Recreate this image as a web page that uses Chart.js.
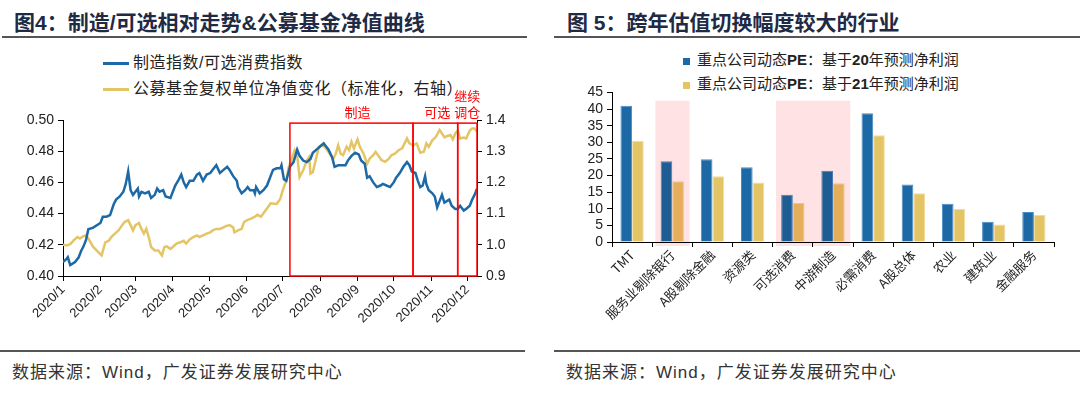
<!DOCTYPE html>
<html>
<head>
<meta charset="utf-8">
<script src="https://cdn.jsdelivr.net/npm/chart.js@4.4.1/dist/chart.umd.min.js"></script>
<style>
  body { margin: 0; width: 1080px; height: 393px; background: #fff; position: relative; overflow: hidden;
         font-family: "Liberation Sans", "Noto Sans CJK SC", sans-serif; }
  .title { position: absolute; top: 6px; font-size: 21px; font-weight: bold; color: #1F2A44; white-space: nowrap; }
  .rule { position: absolute; height: 2px; background: #555; }
  .src { position: absolute; top: 358px; font-size: 17px; color: #333; letter-spacing: 1px; white-space: nowrap; }
  .legend div { position: absolute; white-space: nowrap; color: #222; line-height: 22px; }
  .legend .ln { display: inline-block; width: 26px; height: 3px; vertical-align: middle; margin-right: 4px; }
  .legend .sq { display: inline-block; width: 7px; height: 7px; vertical-align: middle; margin-right: 7px; }
  canvas { position: absolute; }
</style>
</head>
<body>
<div class="title" style="left:14px">图4：制造/可选相对走势&amp;公募基金净值曲线</div>
<div class="rule" style="left:2px;width:525px;top:36px"></div>
<div class="title" style="left:567px">图 5：跨年估值切换幅度较大的行业</div>
<div class="rule" style="left:554px;width:526px;top:36px"></div>

<div class="legend" id="leg1"></div>
<div class="legend" id="leg2"></div>

<canvas id="c1" width="530" height="265" style="left:0;top:80px"></canvas>
<canvas id="c2" width="540" height="265" style="left:540px;top:80px"></canvas>

<div class="rule" style="left:0;width:525px;top:350px"></div>
<div class="rule" style="left:554px;width:526px;top:350px"></div>
<div class="src" style="left:12px">数据来源：Wind，广发证券发展研究中心</div>
<div class="src" style="left:566px">数据来源：Wind，广发证券发展研究中心</div>

<script>
// ---- left chart: 制造/可选 vs 公募基金净值 (2020) ----
const monthLabels = ['2020/1','2020/2','2020/3','2020/4','2020/5','2020/6','2020/7','2020/8','2020/9','2020/10','2020/11','2020/12'];
const monthStarts = ['1/1','2/1','3/1','4/1','5/1','6/1','7/1','8/1','9/1','10/1','11/1','12/1'];
const axisEnd = '12/9';

const ratioName = '制造指数/可选消费指数';
const ratioDates = ['1/1','1/4','1/5','1/7','1/11','1/14','1/16','1/18','1/20','1/22','1/26','2/1','2/3','2/6','2/9','2/12','2/14','2/17','2/20','2/22','2/24','2/26','2/28',
  '3/1','3/3','3/4','3/6','3/9','3/12','3/14','3/17','3/19','3/21','3/24','3/26','3/30','4/1','4/3','4/6','4/8','4/10','4/12','4/15','4/18','4/21','4/23','4/26','4/29',
  '5/2','5/5','5/7','5/10','5/13','5/16','5/18','5/21','5/24','5/25','5/28','5/31','6/2','6/4','6/7','6/8','6/9','6/12','6/15','6/18','6/20','6/23','6/26','6/29','6/30',
  '7/2','7/4','7/7','7/10','7/13','7/15','7/18','7/21','7/24','7/26','7/29','8/1','8/4','8/5','8/8','8/11','8/13','8/16','8/19','8/22','8/24','8/27','8/30',
  '9/2','9/4','9/7','9/9','9/11','9/14','9/17','9/20','9/22','9/25','9/28','10/1','10/3','10/6','10/9','10/12','10/14','10/16','10/19','10/21','10/23','10/25','10/27','10/28','10/30',
  '11/2','11/4','11/6','11/8','11/10','11/12','11/14','11/16','11/18','11/21','11/23','11/25','11/28','11/30','12/3','12/5','12/7','12/9'];
const ratioValues = [0.409,0.411,0.412,0.407,0.409,0.412,0.416,0.419,0.423,0.430,0.431,0.434,0.438,0.438,0.439,0.446,0.449,0.451,0.454,0.459,0.467,0.455,0.452,
  0.454,0.456,0.451,0.454,0.453,0.454,0.450,0.452,0.456,0.454,0.455,0.451,0.450,0.454,0.458,0.462,0.465,0.460,0.457,0.461,0.461,0.465,0.466,0.461,0.465,
  0.466,0.469,0.471,0.466,0.468,0.470,0.468,0.464,0.461,0.457,0.453,0.455,0.457,0.455,0.455,0.453,0.457,0.453,0.455,0.458,0.462,0.468,0.469,0.469,0.471,
  0.462,0.461,0.470,0.473,0.481,0.477,0.474,0.473,0.475,0.479,0.481,0.483,0.485,0.484,0.481,0.476,0.470,0.471,0.471,0.471,0.474,0.477,0.479,
  0.478,0.474,0.472,0.463,0.464,0.460,0.457,0.458,0.459,0.458,0.457,0.460,0.463,0.466,0.470,0.473,0.471,0.467,0.466,0.461,0.457,0.458,0.464,0.459,0.455,
  0.453,0.451,0.444,0.448,0.452,0.447,0.448,0.449,0.445,0.443,0.443,0.445,0.442,0.443,0.445,0.449,0.452,0.456];

const fundName = '公募基金复权单位净值变化（标准化，右轴）';
const fundDates = ['1/1','1/4','1/7','1/10','1/13','1/15','1/18','1/20','1/22','1/26','1/30','2/2','2/5','2/8','2/10','2/13','2/16','2/19','2/21','2/24','2/26','2/28',
  '3/1','3/4','3/6','3/8','3/10','3/12','3/14','3/17','3/20','3/23','3/25','3/27','3/30','4/1','4/4','4/7','4/10','4/12','4/15','4/18','4/21','4/23','4/26','4/29',
  '5/2','5/4','5/7','5/10','5/13','5/15','5/18','5/21','5/22','5/25','5/28','5/30','6/2','6/5','6/8','6/10','6/13','6/16','6/19','6/21','6/26','6/29',
  '7/1','7/4','7/6','7/8','7/11','7/13','7/15','7/18','7/21','7/23','7/24','7/26','7/29','7/31','8/2','8/5','8/7','8/9','8/12','8/14','8/16','8/18','8/20','8/23','8/25','8/27','8/29',
  '9/1','9/3','9/6','9/9','9/11','9/14','9/16','9/18','9/21','9/24','9/27','9/29','10/2','10/5','10/8','10/10','10/12','10/14','10/17','10/20','10/23','10/26','10/28','10/30',
  '11/2','11/5','11/8','11/10','11/12','11/14','11/17','11/19','11/21','11/23','11/25','11/28','11/30','12/3','12/5','12/7','12/9'];
const fundValues = [1.000,0.998,1.002,1.015,1.025,1.020,1.028,1.030,1.020,0.993,0.977,0.966,1.008,1.013,1.025,1.036,1.046,1.063,1.073,1.079,1.063,1.046,
  1.063,1.070,1.051,1.036,1.051,1.025,0.993,0.982,0.982,0.966,0.993,0.995,0.987,0.993,1.004,1.008,1.013,1.004,1.017,1.025,1.030,1.025,1.030,1.036,
  1.040,1.046,1.051,1.051,1.056,1.060,1.063,1.056,1.040,1.046,1.051,1.073,1.080,1.084,1.090,1.096,1.090,1.106,1.122,1.133,1.131,1.147,
  1.174,1.206,1.249,1.271,1.303,1.287,1.217,1.239,1.271,1.282,1.228,1.233,1.282,1.314,1.319,1.314,1.303,1.292,1.276,1.292,1.319,1.292,1.287,1.314,1.303,1.330,1.309,
  1.338,1.314,1.292,1.260,1.276,1.287,1.298,1.287,1.271,1.266,1.276,1.287,1.292,1.303,1.309,1.325,1.341,1.325,1.319,1.325,1.295,1.298,1.325,1.314,
  1.335,1.346,1.368,1.357,1.344,1.348,1.352,1.338,1.357,1.366,1.341,1.344,1.341,1.366,1.373,1.373,1.362];

// red phase boxes
const boxStarts = ['7/7','10/17','11/23'];
const boxEnds = ['10/17','11/23','12/9'];
const boxLabelDates = ['9/1','11/6','12/1'];
const boxLabels = [['制造'], ['可选'], ['继续', '调仓']];
const boxTop = 1.39;

// ---- right chart: 跨年估值切换 ----
const industries = ['TMT','服务业剔除银行','A股剔除金融','资源类','可选消费','中游制造','必需消费','A股总体','农业','建筑业','金融服务'];
const pe2020Name = '重点公司动态PE：基于20年预测净利润';
const pe2021Name = '重点公司动态PE：基于21年预测净利润';
const pe2020 = [41.0, 24.3, 24.9, 22.5, 14.2, 21.4, 38.7, 17.3, 11.5, 6.1, 9.0];
const pe2021 = [30.4, 18.3, 19.8, 17.9, 11.7, 17.7, 32.1, 14.7, 9.9, 5.3, 8.2];
const highlightGroups = [['服务业剔除银行'], ['可选消费', '中游制造']];
const highlightRange = [-1.2, 42.5];

const BLUE = '#1D69A6';
const GOLD = '#E4C566';
const PINK = '#FFE2E4';
const tickFont = { family: 'Liberation Sans', size: 14 };

function dayOf(s) {
  const [m, d] = s.split('/').map(Number);
  return (Date.UTC(2020, m - 1, d) - Date.UTC(2020, 0, 1)) / 864e5;
}

const axisGrid = { drawOnChartArea: false, tickLength: 5, color: '#000' };
const axisBorder = { color: '#000', width: 1 };

const phaseBoxes = {
  id: 'phaseBoxes',
  afterDatasetsDraw(chart) {
    const { ctx, scales: { x, y1 } } = chart;
    const top = y1.getPixelForValue(boxTop), bottom = y1.getPixelForValue(0.9);
    ctx.save();
    ctx.strokeStyle = '#FF0000';
    ctx.lineWidth = 1.5;
    ctx.fillStyle = '#FF0000';
    ctx.font = '13px "Noto Sans CJK SC"';
    ctx.textAlign = 'center';
    ctx.textBaseline = 'middle';
    boxStarts.forEach((s, i) => {
      const l = x.getPixelForValue(dayOf(s)), r = x.getPixelForValue(dayOf(boxEnds[i]));
      ctx.strokeRect(l, top, r - l, bottom - top);
      const cx = x.getPixelForValue(dayOf(boxLabelDates[i]));
      const lines = boxLabels[i];
      lines.forEach((t, k) => ctx.fillText(t, cx, top - 11 - 16 * (lines.length - 1 - k)));
    });
    ctx.restore();
  }
};

const leftChart = new Chart(document.getElementById('c1'), {
  type: 'line',
  data: {
    datasets: [
      { label: ratioName, data: ratioDates.map((d, i) => ({ x: dayOf(d), y: ratioValues[i] })), yAxisID: 'y',
        borderColor: BLUE, borderWidth: 2.5, pointRadius: 0, tension: 0 },
      { label: fundName, data: fundDates.map((d, i) => ({ x: dayOf(d), y: fundValues[i] })), yAxisID: 'y1',
        borderColor: GOLD, borderWidth: 2.5, pointRadius: 0, tension: 0 }
    ]
  },
  options: {
    responsive: false, animation: false, events: [],
    layout: { padding: { top: 40, left: 0, right: 0, bottom: 0 } },
    plugins: { legend: { display: false }, tooltip: { enabled: false } },
    scales: {
      x: {
        type: 'linear', min: 0, max: dayOf(axisEnd),
        afterBuildTicks: s => { s.ticks = monthStarts.map(m => ({ value: dayOf(m) })); },
        ticks: { autoSkip: false, maxRotation: 45, minRotation: 45, padding: 1, color: '#222',
                 font: { family: 'Liberation Sans', size: 13 }, callback: (v, i) => monthLabels[i] },
        grid: axisGrid, border: axisBorder,
        afterFit: s => { s.height = 69; }
      },
      y: {
        position: 'left', min: 0.40, max: 0.50,
        ticks: { stepSize: 0.02, autoSkip: false, padding: 4, color: '#222', font: tickFont, callback: v => v.toFixed(2) },
        grid: axisGrid, border: axisBorder,
        afterFit: s => { s.width = 63; }
      },
      y1: {
        position: 'right', min: 0.9, max: 1.4,
        ticks: { stepSize: 0.1, autoSkip: false, padding: 4, color: '#222', font: tickFont, callback: v => v.toFixed(1) },
        grid: axisGrid, border: axisBorder,
        afterFit: s => { s.width = 53; }
      }
    }
  },
  plugins: [phaseBoxes]
});

const highlightBoxes = {
  id: 'highlightBoxes',
  afterDatasetsDraw(chart) {
    const { ctx, scales: { x, y } } = chart;
    const w = x.getPixelForValue(1) - x.getPixelForValue(0);
    const top = y.getPixelForValue(highlightRange[1]), bottom = y.getPixelForValue(highlightRange[0]);
    ctx.save();
    ctx.globalCompositeOperation = 'multiply';
    ctx.fillStyle = PINK;
    highlightGroups.forEach(g => {
      const l = x.getPixelForValue(industries.indexOf(g[0])) - w * 0.42;
      const r = x.getPixelForValue(industries.indexOf(g[g.length - 1])) + w * 0.43;
      ctx.fillRect(l, top, r - l, bottom - top);
    });
    ctx.restore();
  }
};

const rightChart = new Chart(document.getElementById('c2'), {
  type: 'bar',
  data: {
    labels: industries,
    datasets: [
      { label: pe2020Name, data: pe2020, backgroundColor: BLUE, borderColor: '#4A8CC6', borderWidth: 1,
        barPercentage: 1, categoryPercentage: 0.58 },
      { label: pe2021Name, data: pe2021, backgroundColor: GOLD, borderColor: '#F1DC98', borderWidth: 1,
        barPercentage: 1, categoryPercentage: 0.58 }
    ]
  },
  options: {
    responsive: false, animation: false, events: [],
    layout: { padding: { top: 7, right: 26, left: 0, bottom: 0 } },
    plugins: { legend: { display: false }, tooltip: { enabled: false } },
    scales: {
      x: {
        ticks: { autoSkip: false, maxRotation: 45, minRotation: 45, padding: 0, color: '#222',
                 font: { family: 'Noto Sans CJK SC', size: 13 } },
        grid: Object.assign({ offset: true }, axisGrid), border: axisBorder,
        afterFit: s => { s.height = 103; }
      },
      y: {
        min: 0, max: 45,
        ticks: { stepSize: 5, autoSkip: false, padding: 4, color: '#222', font: tickFont },
        grid: axisGrid, border: axisBorder,
        afterFit: s => { s.width = 72; }
      }
    }
  },
  plugins: [highlightBoxes]
});

// HTML legends built from the chart datasets
const leg1 = document.getElementById('leg1');
leftChart.data.datasets.forEach((ds, i) => {
  const row = document.createElement('div');
  row.style.cssText = `left:103px;top:${52 + i * 26}px;font-size:16px;letter-spacing:0.5px`;
  row.innerHTML = `<span class="ln" style="background:${ds.borderColor}"></span>${ds.label}`;
  leg1.appendChild(row);
});
const leg2 = document.getElementById('leg2');
rightChart.data.datasets.forEach((ds, i) => {
  const row = document.createElement('div');
  row.style.cssText = `left:683px;top:${49 + i * 24}px;font-size:15px`;
  row.innerHTML = `<span class="sq" style="background:${ds.backgroundColor}"></span>` +
    ds.label.replace(/([A-Za-z0-9]+)/g, '<b>$1</b>');
  leg2.appendChild(row);
});
</script>
</body>
</html>
